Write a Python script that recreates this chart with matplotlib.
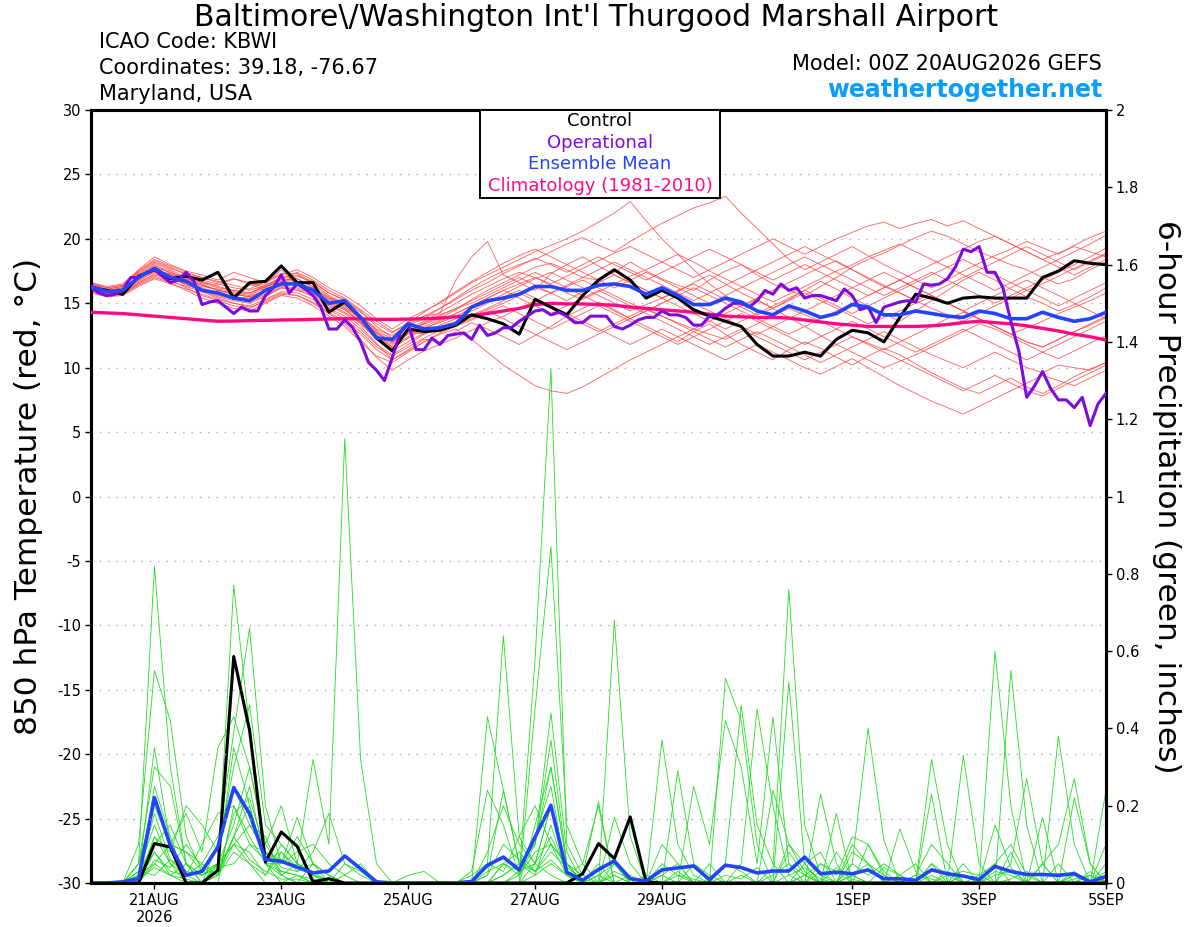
import numpy as np
import matplotlib
matplotlib.use("Agg")
import matplotlib.pyplot as plt
from matplotlib.patches import Rectangle

plt.rcParams['font.family'] = ['DejaVu Sans']
plt.rcParams['axes.unicode_minus'] = False

# ---------------- data ----------------
# 6-hourly steps from 00Z 20AUG2026 to 00Z 05SEP2026 (65 points)
hours6 = np.arange(65) * 6
# operational run is 3-hourly (129 points)
hours3 = np.arange(129) * 3

tick_hours = [24, 72, 120, 168, 216, 288, 336, 384]
tick_labels = ["21AUG\n2026", "23AUG", "25AUG", "27AUG", "29AUG", "1SEP", "3SEP", "5SEP"]

temp_ticks = [-30, -25, -20, -15, -10, -5, 0, 5, 10, 15, 20, 25, 30]
precip_ticks = [0, 0.2, 0.4, 0.6, 0.8, 1.0, 1.2, 1.4, 1.6, 1.8, 2.0]
precip_tick_labels = ["0", "0.2", "0.4", "0.6", "0.8", "1", "1.2", "1.4", "1.6", "1.8", "2"]

control_t = [16.2, 16.0, 15.7, 17.1, 17.6, 16.9, 17.1, 16.8, 17.4, 15.4, 16.6, 16.7, 17.9,
             16.6, 16.6, 14.3, 15.1, 13.9, 12.3, 11.3, 13.0, 12.8, 12.9, 13.3, 14.1, 13.8,
             13.4, 12.6, 15.3, 14.7, 14.1, 15.6, 16.8, 17.6, 16.8, 15.4, 16.0, 15.4, 14.5,
             14.0, 13.6, 13.2, 11.8, 10.9, 10.9, 11.2, 10.9, 12.2, 12.9, 12.7, 12.0, 13.9,
             15.7, 15.4, 15.0, 15.4, 15.5, 15.4, 15.4, 15.4, 17.0, 17.5, 18.3, 18.1, 18.0]

ens_mean_t = [16.3, 15.9, 16.0, 17.0, 17.7, 17.0, 16.7, 16.0, 15.8, 15.4, 15.2, 16.0, 16.5,
              16.5, 16.0, 15.0, 15.2, 13.9, 12.3, 12.2, 13.4, 13.0, 13.1, 13.4, 14.7, 15.2,
              15.4, 15.7, 16.3, 16.3, 16.0, 16.0, 16.4, 16.5, 16.3, 15.7, 16.2, 15.6, 14.9,
              14.9, 15.4, 15.1, 14.4, 14.1, 14.8, 14.4, 13.9, 14.2, 14.9, 14.7, 14.1, 14.1,
              14.4, 14.2, 14.0, 13.9, 14.4, 14.2, 13.8, 13.8, 14.3, 13.9, 13.6, 13.8, 14.3]

climo_t = [14.3, 14.25, 14.2, 14.1, 14.0, 13.9, 13.8, 13.7, 13.6, 13.62, 13.65, 13.67, 13.7,
           13.72, 13.75, 13.78, 13.8, 13.8, 13.75, 13.75, 13.77, 13.8, 13.85, 13.95, 14.05, 14.2,
           14.4, 14.6, 14.9, 15.0, 14.95, 14.95, 14.9, 14.85, 14.7, 14.6, 14.5, 14.4, 14.3,
           14.15, 14.0, 13.95, 13.9, 13.9, 13.85, 13.7, 13.55, 13.4, 13.3, 13.2, 13.2, 13.2,
           13.2, 13.25, 13.35, 13.5, 13.6, 13.5, 13.4, 13.25, 13.05, 12.85, 12.6, 12.4, 12.15]

oper_t = [16.2, 15.8, 15.6, 15.7, 16.0, 17.0, 17.0, 17.4, 17.6, 17.1, 16.6, 16.8, 17.4,
          16.7, 14.9, 15.1, 15.2, 14.7, 14.2, 14.7, 14.4, 14.4, 15.6, 16.2, 17.2, 15.8,
          16.5, 16.1, 15.6, 14.7, 13.0, 13.0, 13.7, 13.1, 12.0, 10.4, 9.8, 9.0, 10.8,
          12.7, 13.4, 11.4, 11.4, 12.3, 11.8, 12.5, 12.6, 12.7, 12.2, 13.3, 12.5, 12.7,
          13.1, 13.1, 13.6, 14.0, 14.4, 14.5, 14.1, 14.3, 14.0, 13.5, 13.5, 14.0, 14.0,
          14.0, 13.2, 13.0, 13.3, 13.7, 13.9, 13.9, 14.4, 14.1, 14.1, 13.9, 13.3, 13.3,
          14.0, 14.1, 14.6, 15.0, 15.0, 14.7, 15.2, 16.0, 15.7, 16.5, 16.0, 16.2, 15.4,
          15.6, 15.6, 15.4, 15.2, 16.1, 15.6, 14.5, 14.7, 13.5, 14.7, 14.9, 15.1, 15.2,
          15.1, 16.5, 16.4, 16.5, 16.9, 17.8, 19.2, 19.0, 19.4, 17.4, 17.4, 16.2, 13.6,
          11.3, 7.7, 8.6, 9.7, 8.4, 7.5, 7.5, 6.9, 7.7, 5.5, 7.2, 8.0]

control_p = [0, 0, 0, 0, 0.102, 0.093, 0, 0, 0.033, 0.586, 0.395, 0.054, 0.132,
             0.095, 0.003, 0.011, 0, 0, 0, 0, 0, 0, 0, 0, 0, 0,
             0, 0, 0, 0, 0, 0.024, 0.102, 0.063, 0.171, 0.003, 0, 0, 0,
             0, 0, 0, 0, 0, 0, 0, 0, 0, 0, 0, 0, 0,
             0, 0, 0, 0, 0, 0, 0, 0, 0, 0, 0, 0, 0]

ens_mean_p = [0, 0, 0.003, 0.011, 0.221, 0.097, 0.020, 0.030, 0.093, 0.247, 0.179, 0.061, 0.056,
              0.041, 0.026, 0.031, 0.070, 0.037, 0.003, 0, 0, 0, 0, 0, 0.004, 0.046,
              0.067, 0.034, 0.119, 0.201, 0.028, 0.007, 0.035, 0.057, 0.011, 0.005, 0.034, 0.039, 0.044,
              0.009, 0.046, 0.040, 0.026, 0.031, 0.031, 0.067, 0.024, 0.028, 0.024, 0.034, 0.011, 0.011,
              0.007, 0.034, 0.024, 0.018, 0.009, 0.043, 0.030, 0.022, 0.022, 0.020, 0.024, 0.003, 0.017]

# ensemble members, 850 hPa temperature (deg C)
t_m01 = [16.3, 15.9, 16.1, 17.2, 18.0, 17.3, 16.9, 16.5, 16.0, 15.8, 15.6, 16.2, 16.8, 16.9, 16.2,
         15.4, 15.0, 14.0, 12.8, 12.0, 12.9, 13.4, 13.8, 14.5, 15.3, 16.0, 16.6, 17.2, 17.8, 18.1,
         17.6, 17.0, 16.8, 17.4, 18.2, 17.5, 16.9, 16.4, 16.0, 16.8, 17.5, 18.0, 17.2, 16.5, 16.0,
         15.6, 16.3, 17.0, 17.8, 18.4, 18.9, 19.5, 20.1, 20.6, 20.2, 19.6, 19.0, 18.5, 18.0, 17.6,
         17.0, 16.5, 16.9, 17.6, 18.2]
t_m02 = [16.0, 15.7, 15.9, 16.8, 17.4, 17.0, 16.4, 16.0, 15.5, 15.2, 15.0, 15.5, 16.2, 16.0, 15.6,
         14.8, 14.2, 13.2, 11.9, 10.6, 11.4, 12.2, 12.0, 12.8, 13.5, 13.0, 12.4, 11.8, 12.5, 13.2,
         14.0, 14.6, 15.1, 14.5, 13.8, 13.2, 12.6, 12.0, 12.8, 13.4, 12.6, 11.8, 11.2, 10.6, 11.4,
         12.0, 11.5, 10.8, 10.2, 10.9, 11.5, 11.0, 10.3, 9.6, 9.0, 8.4, 8.0, 8.6, 9.2, 8.5,
         8.0, 8.6, 9.3, 9.9, 10.4]
t_m03 = [16.5, 16.2, 16.4, 17.5, 18.3, 17.8, 17.2, 16.6, 16.4, 16.9, 16.5, 16.0, 16.6, 17.1, 16.7,
         15.8, 15.3, 14.4, 13.2, 12.3, 13.6, 14.0, 14.2, 16.8, 18.6, 19.8, 17.2, 16.6, 16.0, 17.3,
         18.0, 18.6, 17.9, 17.2, 16.6, 16.0, 15.4, 15.9, 16.6, 17.2, 16.5, 15.8, 15.2, 14.6, 15.3,
         16.0, 16.7, 16.1, 15.4, 14.8, 14.2, 13.6, 14.4, 15.2, 16.0, 16.8, 17.4, 16.8, 16.1, 15.5,
         15.0, 14.4, 14.9, 15.5, 16.2]
t_m04 = [16.2, 15.8, 15.6, 16.6, 17.3, 16.8, 16.2, 15.6, 15.2, 14.8, 14.6, 15.2, 15.8, 15.6, 15.0,
         14.2, 13.4, 12.2, 10.8, 9.8, 10.6, 11.3, 11.8, 12.3, 12.9, 13.5, 14.0, 14.6, 15.2, 15.8,
         16.3, 16.8, 16.2, 15.6, 15.0, 14.5, 14.0, 13.5, 13.0, 12.6, 12.2, 12.8, 13.4, 14.0, 14.6,
         14.1, 13.6, 13.0, 12.4, 11.9, 11.4, 12.0, 12.6, 13.2, 13.8, 14.3, 13.8, 13.2, 12.6, 12.0,
         11.6, 12.2, 12.8, 13.3, 13.9]
t_m05 = [16.4, 16.0, 16.2, 17.0, 17.8, 17.4, 17.0, 16.8, 16.5, 16.2, 16.0, 16.4, 17.0, 17.2, 16.5,
         15.6, 15.0, 14.0, 13.0, 12.5, 13.3, 13.8, 14.6, 15.4, 16.2, 16.9, 17.5, 18.0, 18.4, 19.0,
         19.6, 20.1, 19.5, 19.0, 19.8, 20.5, 21.2, 21.8, 22.4, 22.8, 23.3, 22.0, 20.8, 19.6, 18.4,
         17.6, 18.2, 18.8, 19.4, 18.7, 18.0, 17.4, 16.8, 16.2, 16.8, 17.5, 18.1, 18.7, 19.2, 19.8,
         19.3, 18.8, 19.5, 20.1, 20.6]
t_m06 = [16.6, 16.3, 16.5, 17.6, 18.6, 18.0, 17.5, 17.2, 16.8, 17.4, 17.0, 16.6, 17.2, 17.6, 17.0,
         16.2, 15.6, 14.8, 13.8, 13.0, 13.8, 14.4, 15.0, 15.8, 16.6, 17.2, 17.8, 18.4, 19.0, 19.5,
         20.0, 20.6, 21.3, 22.0, 22.9, 21.4, 20.0, 18.8, 17.6, 16.5, 15.6, 14.8, 15.4, 16.0, 16.6,
         17.2, 17.8, 18.3, 17.6, 16.9, 16.3, 15.8, 15.2, 14.6, 14.1, 13.6, 14.2, 14.8, 15.4, 16.0,
         16.5, 17.1, 17.7, 18.3, 18.9]
t_m07 = [15.9, 15.5, 15.7, 16.4, 17.0, 16.6, 16.0, 15.4, 15.0, 14.6, 14.4, 15.0, 15.6, 15.4, 14.8,
         14.0, 13.2, 12.0, 10.9, 10.4, 11.2, 12.0, 12.6, 13.0, 12.2, 11.2, 10.2, 9.4, 8.6, 8.2,
         8.0, 8.5, 9.2, 9.9, 10.6, 11.2, 11.8, 12.4, 13.0, 13.6, 14.2, 14.8, 15.3, 14.6, 13.9,
         13.2, 12.5, 11.8, 11.2, 10.6, 10.0, 10.5, 11.0, 11.6, 12.2, 12.8, 13.4, 13.0, 12.4, 11.8,
         11.2, 10.7, 11.3, 11.9, 12.5]
t_m08 = [16.1, 15.8, 16.0, 17.0, 17.6, 17.2, 16.7, 16.3, 16.1, 15.9, 15.7, 16.3, 16.9, 16.7, 16.0,
         15.2, 14.6, 13.6, 12.5, 11.8, 12.6, 13.2, 13.7, 14.2, 14.8, 15.4, 16.0, 16.5, 17.0, 16.4,
         15.8, 15.3, 15.9, 16.5, 17.1, 17.6, 18.2, 18.8, 18.2, 17.5, 16.9, 16.3, 15.7, 15.1, 15.7,
         16.3, 16.9, 17.5, 18.0, 18.6, 19.1, 19.6, 19.0, 18.4, 17.8, 17.2, 16.6, 16.0, 16.6, 17.2,
         17.8, 18.4, 19.0, 19.6, 20.3]
t_m09 = [16.2, 16.0, 15.8, 16.9, 17.7, 17.0, 17.1, 16.8, 17.3, 15.6, 16.4, 16.5, 17.6, 16.4, 16.2,
         14.6, 15.0, 13.8, 12.6, 11.6, 12.8, 12.6, 13.0, 13.3, 14.0, 14.5, 15.0, 15.6, 16.2, 15.8,
         15.2, 15.9, 16.6, 17.2, 16.6, 16.0, 15.4, 14.8, 14.2, 13.6, 13.0, 13.6, 14.2, 14.8, 15.4,
         16.0, 15.4, 14.8, 14.2, 14.8, 15.4, 16.0, 16.6, 17.2, 17.8, 18.4, 17.8, 17.2, 16.6, 16.0,
         15.4, 14.8, 15.4, 16.0, 16.6]
t_m10 = [16.0, 15.6, 15.8, 16.6, 17.2, 16.9, 16.5, 16.1, 15.7, 15.4, 15.1, 15.6, 16.2, 16.1, 15.5,
         14.6, 14.0, 13.0, 11.8, 11.0, 11.8, 12.6, 13.2, 13.6, 14.1, 14.6, 15.2, 15.8, 15.2, 14.6,
         14.0, 13.4, 12.8, 13.4, 14.0, 14.6, 14.0, 13.4, 12.8, 12.2, 11.6, 12.2, 12.8, 12.2, 11.6,
         11.0, 10.4, 11.0, 11.6, 12.2, 12.8, 12.2, 11.6, 11.0, 10.5, 10.0, 10.6, 11.2, 10.6, 10.0,
         9.6, 10.2, 10.0, 9.8, 10.4]
t_m11 = [16.5, 16.1, 16.3, 17.3, 18.1, 17.6, 17.0, 16.7, 16.3, 16.0, 15.8, 16.4, 17.0, 16.9, 16.3,
         15.5, 14.9, 14.0, 12.9, 12.2, 13.0, 13.6, 14.3, 15.0, 15.7, 16.3, 16.9, 17.4, 17.0, 16.5,
         17.1, 17.7, 18.3, 18.9, 19.4, 18.8, 18.2, 17.6, 17.0, 17.6, 18.2, 18.8, 19.4, 20.0, 19.4,
         18.8, 19.4, 20.0, 20.5, 21.0, 21.3, 20.8, 21.2, 21.5, 21.0, 21.4, 20.8, 20.2, 19.6, 19.0,
         18.4, 18.9, 19.4, 19.0, 18.6]
t_m12 = [16.3, 15.9, 16.0, 17.1, 17.8, 17.1, 16.6, 16.2, 15.8, 15.5, 15.4, 15.9, 16.5, 16.4, 15.8,
         15.0, 14.5, 13.5, 12.4, 11.6, 12.4, 13.1, 13.5, 14.0, 14.6, 15.1, 15.7, 16.3, 16.9, 17.4,
         16.8, 16.2, 15.6, 15.0, 14.4, 14.9, 15.4, 16.0, 16.5, 15.9, 15.3, 14.7, 14.1, 14.6, 15.2,
         15.8, 15.2, 14.6, 14.0, 13.4, 13.9, 14.4, 15.0, 15.5, 15.0, 14.4, 13.8, 13.2, 12.6, 13.1,
         13.6, 14.2, 14.7, 15.2, 15.8]
t_m13 = [16.0, 15.7, 15.9, 16.7, 17.5, 17.0, 16.5, 16.0, 15.6, 15.3, 15.2, 15.7, 16.3, 16.2, 15.7,
         14.9, 14.3, 13.4, 12.2, 11.3, 12.0, 12.7, 13.3, 13.8, 14.4, 15.0, 15.5, 16.0, 15.4, 14.8,
         14.2, 13.6, 13.0, 12.4, 11.8, 12.4, 13.0, 12.4, 11.8, 11.2, 10.6, 11.2, 11.8, 11.2, 10.6,
         10.0, 9.5, 10.1, 10.7, 10.0, 9.3, 8.6, 8.0, 7.4, 6.9, 6.4, 7.0, 7.6, 8.2, 8.8,
         9.4, 9.0, 8.6, 9.2, 9.8]
t_m14 = [16.4, 16.1, 16.3, 17.4, 18.2, 17.7, 17.3, 17.0, 16.6, 16.9, 16.6, 16.2, 16.9, 17.4, 16.8,
         16.0, 15.4, 14.5, 13.6, 12.8, 13.4, 14.0, 14.6, 15.3, 16.0, 16.6, 17.3, 17.9, 18.5, 18.0,
         17.4, 18.0, 18.6, 18.0, 17.4, 16.8, 17.4, 18.0, 18.6, 19.2, 18.6, 18.0, 17.4, 16.8, 17.4,
         18.0, 17.4, 16.8, 16.2, 15.6, 16.2, 16.8, 17.4, 18.0, 18.6, 19.2, 19.8, 20.2, 19.6, 19.0,
         18.4, 17.8, 17.2, 17.8, 18.4]
t_m15 = [16.1, 15.8, 15.7, 16.5, 17.1, 16.7, 16.3, 15.9, 15.4, 15.0, 14.8, 15.3, 15.9, 15.8, 15.3,
         14.5, 13.8, 12.8, 11.6, 10.9, 11.6, 12.3, 12.9, 13.3, 13.8, 14.4, 13.8, 13.2, 12.6, 12.0,
         11.4, 12.0, 12.6, 13.2, 13.8, 14.4, 15.0, 15.6, 16.2, 15.6, 15.0, 14.4, 13.8, 13.2, 12.6,
         13.2, 13.8, 14.4, 15.0, 15.6, 16.2, 16.8, 16.2, 15.6, 15.0, 14.4, 13.8, 13.2, 12.6, 12.0,
         11.6, 12.2, 12.8, 13.4, 14.0]
t_m16 = [16.6, 16.2, 16.4, 17.5, 18.4, 17.9, 17.4, 17.0, 16.7, 16.4, 16.1, 16.7, 17.3, 17.3, 16.6,
         15.8, 15.2, 14.3, 13.4, 12.7, 13.5, 14.3, 15.1, 15.9, 16.7, 17.4, 18.1, 18.7, 19.2, 18.6,
         18.0, 17.4, 16.8, 16.2, 16.8, 17.4, 16.8, 16.2, 15.6, 15.0, 15.6, 16.2, 16.8, 17.4, 18.0,
         18.6, 18.0, 17.4, 16.8, 16.2, 15.6, 16.2, 16.8, 17.4, 16.8, 16.2, 15.6, 15.0, 15.6, 16.2,
         16.8, 17.4, 18.0, 18.6, 19.3]
t_m17 = [15.8, 15.5, 15.6, 16.3, 16.9, 16.5, 16.1, 15.7, 15.3, 15.0, 14.7, 15.1, 15.7, 15.6, 15.1,
         14.3, 13.6, 12.6, 11.4, 10.6, 11.3, 12.0, 12.7, 13.2, 13.7, 14.3, 14.8, 14.2, 13.6, 13.0,
         13.6, 14.2, 14.8, 14.2, 13.6, 13.0, 12.4, 11.8, 12.4, 13.0, 13.6, 14.2, 13.6, 13.0, 12.4,
         11.8, 12.4, 13.0, 13.6, 13.0, 12.4, 11.8, 11.2, 11.8, 12.4, 13.0, 12.4, 11.8, 11.2, 10.6,
         11.2, 11.8, 12.4, 13.0, 13.6]
t_m18 = [16.2, 15.9, 16.1, 17.1, 17.9, 17.5, 16.8, 16.4, 16.0, 15.7, 15.5, 16.0, 16.6, 16.6, 16.1,
         15.3, 14.7, 13.8, 12.7, 11.9, 12.7, 13.4, 14.0, 14.6, 15.2, 15.8, 16.4, 17.0, 16.4, 15.8,
         16.4, 17.0, 17.6, 18.2, 17.6, 17.0, 16.4, 15.8, 15.2, 15.8, 16.4, 17.0, 17.6, 18.2, 18.8,
         19.4, 18.8, 18.2, 17.6, 17.0, 16.4, 15.8, 15.2, 15.8, 16.4, 17.0, 17.6, 18.2, 18.8, 19.4,
         18.8, 18.2, 17.6, 18.2, 18.8]
t_m19 = [16.3, 16.0, 16.2, 17.0, 17.5, 17.3, 16.9, 16.6, 16.2, 16.0, 15.8, 16.3, 16.7, 16.6, 16.1,
         15.4, 14.8, 13.8, 12.7, 12.0, 12.8, 13.5, 14.1, 14.6, 15.0, 15.6, 16.2, 16.8, 17.4, 16.8,
         16.2, 15.6, 15.0, 14.4, 13.8, 14.4, 15.0, 15.6, 15.0, 14.4, 13.8, 13.2, 12.6, 13.2, 13.8,
         14.4, 15.0, 15.6, 16.2, 16.8, 17.4, 16.8, 16.2, 15.6, 15.0, 14.4, 15.0, 15.6, 16.2, 16.8,
         16.2, 15.6, 15.0, 14.4, 13.8]
t_m20 = [16.1, 15.8, 16.0, 16.9, 17.6, 17.2, 16.8, 16.4, 16.0, 15.7, 15.5, 16.0, 16.6, 16.5, 15.9,
         15.1, 14.5, 13.5, 12.3, 11.5, 12.3, 13.0, 13.6, 14.2, 14.8, 15.4, 16.0, 15.4, 14.8, 14.2,
         14.8, 15.4, 16.0, 15.4, 14.8, 14.2, 13.6, 13.0, 12.4, 11.8, 12.4, 13.0, 12.4, 11.8, 11.2,
         10.6, 11.2, 11.8, 12.4, 11.8, 11.2, 10.6, 10.0, 9.4, 8.8, 8.2, 8.8, 9.4, 8.8, 8.2,
         7.8, 8.4, 9.0, 9.6, 10.2]

# ensemble members, 6-hour precipitation (inches)
p_m01 = [0, 0, 0, 0.05, 0.82, 0.30, 0.05, 0, 0.02, 0.12, 0.20, 0.05, 0,
         0.02, 0, 0, 0, 0, 0, 0, 0, 0, 0, 0, 0, 0.43,
         0.24, 0.05, 0.10, 0.30, 0.05, 0, 0, 0, 0, 0, 0.02, 0.05, 0,
         0, 0.53, 0.42, 0.10, 0, 0, 0.05, 0, 0, 0.02, 0, 0, 0,
         0, 0.05, 0, 0, 0, 0.15, 0.04, 0, 0, 0, 0.02, 0, 0]
p_m02 = [0, 0, 0, 0.10, 0.55, 0.42, 0.12, 0.03, 0.05, 0.77, 0.40, 0.08, 0.02,
         0, 0, 0, 0, 0, 0, 0, 0, 0, 0, 0, 0.02, 0.05,
         0.64, 0.12, 0.05, 0.20, 0.02, 0, 0, 0.17, 0.05, 0, 0, 0, 0,
         0, 0, 0.05, 0.45, 0.20, 0.02, 0, 0, 0.08, 0.02, 0, 0, 0.14,
         0.03, 0, 0, 0, 0, 0, 0.05, 0.27, 0.05, 0, 0, 0, 0.05]
p_m03 = [0, 0, 0, 0.02, 0.35, 0.10, 0.18, 0.08, 0.35, 0.43, 0.30, 0.10, 0.20,
         0.05, 0.02, 0, 0, 0, 0, 0, 0, 0, 0, 0, 0, 0,
         0.05, 0.02, 0.58, 1.33, 0.10, 0.02, 0.21, 0, 0, 0, 0, 0.03, 0,
         0, 0, 0, 0, 0.04, 0.76, 0.15, 0.02, 0, 0, 0, 0, 0,
         0, 0.32, 0.10, 0, 0, 0, 0.55, 0.15, 0, 0.38, 0.10, 0, 0]
p_m04 = [0, 0, 0, 0.05, 0.30, 0.25, 0.05, 0, 0.10, 0.39, 0.66, 0.20, 0.05,
         0.17, 0.05, 0.02, 0, 0, 0, 0, 0, 0, 0, 0, 0, 0,
         0, 0, 0.45, 0.87, 0.15, 0.05, 0, 0.68, 0.12, 0, 0, 0, 0,
         0, 0, 0, 0, 0, 0.52, 0.05, 0, 0, 0.05, 0.40, 0.11, 0,
         0, 0, 0, 0, 0, 0.60, 0.20, 0, 0, 0, 0, 0, 0]
p_m05 = [0, 0, 0, 0.01, 0.12, 0.08, 0.20, 0.15, 0.08, 0.30, 0.46, 0.15, 0.10,
         0.05, 0.32, 0.10, 1.15, 0.32, 0.05, 0, 0, 0, 0, 0, 0, 0,
         0.02, 0.05, 0.10, 0.44, 0.08, 0, 0, 0, 0, 0, 0.37, 0.10, 0.02,
         0, 0, 0, 0, 0, 0, 0, 0.23, 0.05, 0, 0, 0, 0,
         0, 0, 0, 0, 0, 0, 0, 0, 0.05, 0.10, 0.27, 0.05, 0]
p_m06 = [0, 0, 0, 0.03, 0.15, 0.05, 0.02, 0.10, 0.18, 0.20, 0.10, 0.08, 0.05,
         0.12, 0.05, 0.02, 0, 0, 0, 0, 0.02, 0.03, 0, 0, 0.03, 0.24,
         0.15, 0.02, 0.10, 0.37, 0.05, 0, 0.05, 0, 0, 0.02, 0, 0.29, 0.05,
         0, 0.05, 0.46, 0.15, 0.05, 0, 0, 0, 0.18, 0, 0, 0, 0,
         0, 0.23, 0, 0, 0, 0, 0, 0, 0.17, 0, 0, 0, 0.24]
p_m07 = [0, 0, 0, 0, 0.08, 0.02, 0, 0, 0.05, 0.10, 0.05, 0.02, 0.08,
         0.03, 0.08, 0.18, 0.05, 0.02, 0, 0, 0, 0, 0, 0, 0, 0.02,
         0.24, 0.05, 0.02, 0.15, 0.02, 0.05, 0.20, 0, 0, 0, 0, 0, 0.25,
         0.10, 0.42, 0.30, 0.05, 0.43, 0.05, 0, 0, 0, 0, 0.10, 0.02, 0,
         0, 0, 0, 0.33, 0.05, 0, 0, 0, 0, 0, 0.22, 0.05, 0]
p_m08 = [0, 0, 0, 0.02, 0.05, 0.10, 0.08, 0.05, 0.02, 0.12, 0.25, 0.05, 0.02,
         0, 0.05, 0, 0.02, 0, 0, 0, 0, 0, 0, 0, 0, 0.05,
         0.03, 0.12, 0.20, 0.10, 0.05, 0, 0.02, 0.05, 0, 0, 0, 0, 0,
         0.05, 0, 0, 0, 0.24, 0.10, 0.05, 0.08, 0, 0.02, 0.05, 0, 0,
         0, 0, 0, 0, 0, 0, 0.08, 0, 0, 0, 0, 0, 0.03]
p_m09 = [0, 0, 0, 0, 0.25, 0.12, 0, 0, 0, 0.20, 0.12, 0.05, 0.03,
         0.02, 0, 0, 0, 0, 0, 0, 0, 0, 0, 0, 0, 0,
         0, 0, 0.15, 0.30, 0.05, 0, 0.02, 0, 0, 0, 0.10, 0.05, 0,
         0, 0.05, 0.03, 0, 0, 0.08, 0.02, 0, 0, 0.10, 0.05, 0, 0,
         0.02, 0.10, 0.05, 0, 0.02, 0.05, 0.10, 0.02, 0, 0.05, 0, 0, 0.10]
p_m10 = [0, 0, 0, 0.02, 0.18, 0.06, 0.02, 0.05, 0.12, 0.25, 0.15, 0.12, 0.02,
         0.05, 0.02, 0, 0, 0, 0, 0, 0, 0, 0, 0, 0, 0.08,
         0.20, 0.10, 0.05, 0.02, 0, 0, 0, 0, 0, 0, 0, 0, 0,
         0, 0, 0, 0, 0, 0, 0.02, 0.05, 0.02, 0.12, 0.10, 0.03, 0,
         0, 0.05, 0.02, 0.03, 0.02, 0, 0, 0, 0, 0, 0.02, 0, 0]
p_m11 = [0, 0, 0, 0.03, 0.10, 0.15, 0.05, 0.02, 0.05, 0.35, 0.20, 0.05, 0.05,
         0.08, 0.10, 0.05, 0.02, 0.05, 0, 0, 0, 0, 0, 0, 0, 0,
         0, 0, 0.05, 0.20, 0.03, 0, 0, 0, 0.02, 0, 0, 0, 0.05,
         0.02, 0, 0, 0, 0, 0.10, 0.03, 0, 0, 0.05, 0.02, 0.05, 0.02,
         0, 0, 0, 0.05, 0, 0.05, 0, 0, 0, 0, 0, 0.03, 0]
p_m12 = [0, 0, 0, 0, 0.05, 0.02, 0.05, 0.02, 0.05, 0.15, 0.30, 0.10, 0.04,
         0.03, 0.05, 0.02, 0, 0, 0, 0, 0, 0, 0, 0, 0, 0,
         0, 0.02, 0.08, 0.10, 0.02, 0, 0, 0.05, 0, 0, 0.05, 0.02, 0,
         0, 0, 0, 0, 0, 0, 0, 0.03, 0, 0.08, 0.05, 0.02, 0,
         0, 0, 0.03, 0, 0, 0.02, 0.03, 0, 0, 0, 0.03, 0, 0.02]
p_m13 = [0, 0, 0, 0.02, 0.08, 0.03, 0.02, 0, 0.05, 0.10, 0.08, 0.02, 0.10,
         0.05, 0.03, 0, 0, 0, 0, 0, 0, 0, 0, 0, 0, 0.03,
         0.05, 0.03, 0.12, 0.25, 0.02, 0, 0, 0, 0, 0, 0, 0, 0,
         0, 0, 0, 0, 0, 0, 0, 0, 0, 0, 0, 0, 0.02,
         0.05, 0, 0.02, 0, 0, 0, 0, 0, 0, 0, 0, 0, 0]
p_m14 = [0, 0, 0, 0, 0.12, 0.05, 0, 0, 0.02, 0.08, 0.05, 0, 0,
         0, 0, 0, 0, 0, 0, 0, 0, 0, 0, 0, 0, 0,
         0, 0, 0.02, 0.05, 0.02, 0, 0, 0.02, 0, 0, 0.02, 0, 0,
         0, 0, 0, 0, 0, 0, 0, 0, 0, 0, 0, 0, 0,
         0, 0, 0, 0, 0, 0, 0, 0, 0, 0, 0, 0, 0]
p_m15 = [0, 0, 0, 0.05, 0.20, 0.10, 0.08, 0.03, 0.02, 0.18, 0.22, 0.08, 0.06,
         0.04, 0.02, 0, 0, 0, 0, 0, 0, 0, 0, 0, 0, 0,
         0.05, 0.08, 0.03, 0.10, 0.05, 0.02, 0, 0, 0, 0, 0, 0, 0,
         0, 0, 0.02, 0, 0, 0, 0, 0.05, 0.03, 0, 0, 0, 0,
         0, 0, 0, 0.02, 0, 0, 0, 0, 0.05, 0, 0, 0, 0]
p_m16 = [0, 0, 0, 0, 0.06, 0.04, 0.10, 0.04, 0.02, 0.10, 0.15, 0.08, 0.03,
         0.02, 0.01, 0, 0, 0, 0, 0, 0, 0, 0, 0, 0, 0.02,
         0.10, 0.06, 0.03, 0.06, 0.02, 0, 0, 0.03, 0.01, 0, 0, 0, 0,
         0, 0, 0, 0, 0.02, 0.05, 0.02, 0, 0, 0, 0, 0.04, 0.02,
         0, 0.02, 0, 0, 0, 0.03, 0.02, 0, 0, 0, 0, 0, 0]
p_m17 = [0, 0, 0, 0.01, 0.04, 0.02, 0.01, 0, 0.03, 0.12, 0.06, 0.03, 0.01,
         0.01, 0, 0, 0.05, 0.03, 0, 0, 0, 0, 0, 0, 0, 0,
         0, 0.03, 0.05, 0.12, 0.03, 0, 0, 0.02, 0, 0, 0, 0.02, 0.01,
         0, 0.02, 0.01, 0.04, 0, 0, 0.02, 0, 0.04, 0.01, 0, 0, 0,
         0.02, 0.01, 0, 0.02, 0, 0, 0.01, 0.03, 0, 0, 0, 0.02, 0]
p_m18 = [0, 0, 0, 0.03, 0.02, 0.06, 0.03, 0.02, 0.04, 0.05, 0.10, 0.06, 0.08,
         0.04, 0.02, 0.01, 0, 0, 0, 0, 0, 0, 0, 0, 0, 0,
         0.02, 0.05, 0.03, 0.08, 0.04, 0.01, 0, 0, 0, 0, 0, 0, 0,
         0, 0, 0, 0, 0, 0.02, 0.04, 0.01, 0, 0, 0, 0, 0,
         0, 0, 0, 0, 0, 0, 0, 0, 0, 0, 0.01, 0.02, 0]

temp_members = [t_m01, t_m02, t_m03, t_m04, t_m05, t_m06, t_m07, t_m08, t_m09, t_m10,
                t_m11, t_m12, t_m13, t_m14, t_m15, t_m16, t_m17, t_m18, t_m19, t_m20]
precip_members = [p_m01, p_m02, p_m03, p_m04, p_m05, p_m06, p_m07, p_m08, p_m09,
                  p_m10, p_m11, p_m12, p_m13, p_m14, p_m15, p_m16, p_m17, p_m18]

# ---------------- figure ----------------
W, H = 1200, 927
fig = plt.figure(figsize=(W / 100, H / 100), dpi=100)
L, R, T, B = 91, 1106, 110, 883
ax = fig.add_axes([L / W, 1 - B / H, (R - L) / W, (B - T) / H])
ax2 = ax.twinx()
ax.set_zorder(ax2.get_zorder() + 1)
ax.patch.set_visible(False)

# precipitation (right axis)
for m in precip_members:
    ax2.plot(hours6, m, color='#22dd22', lw=0.6, zorder=2)
ax2.plot(hours6, control_p, color='black', lw=2.2, zorder=4)
ax2.plot(hours6, ens_mean_p, color='#2244ff', lw=2.6, zorder=5)
ax2.set_ylim(0, 2)
ax2.set_yticks(precip_ticks)
ax2.set_yticklabels(precip_tick_labels)

# temperature (left axis)
for m in temp_members:
    ax.plot(hours6, m, color='#ff4a4a', lw=0.6, alpha=0.9, zorder=2)
ax.plot(hours6, climo_t, color='#ff0a84', lw=2.4, zorder=4)
ax.plot(hours6, control_t, color='black', lw=2.2, zorder=5)
ax.plot(hours3, oper_t, color='#7f0adf', lw=2.2, zorder=6)
ax.plot(hours6, ens_mean_t, color='#2244ff', lw=2.6, zorder=7)

ax.set_ylim(-30, 30)
ax.set_xlim(0, 384)
ax.set_yticks(temp_ticks)
ax.set_yticklabels([str(v) for v in temp_ticks])
ax.set_xticks(tick_hours)
ax.set_xticklabels(tick_labels)
for v in temp_ticks[1:-1]:
    ax.axhline(v, color='#aaaaaa', lw=1.0, ls=(0, (1, 5)), zorder=1)

for a in (ax, ax2):
    for s in a.spines.values():
        s.set_linewidth(2.2)
ax.tick_params(axis='both', labelsize=10.5, direction='out', length=4, width=1, pad=3)
ax2.tick_params(axis='y', labelsize=10.5, direction='out', length=4, width=1, pad=3)

ax.set_ylabel("850 hPa Temperature (red, \u00b0C)", fontsize=22.5, labelpad=10)
ax2.set_ylabel("6-hour Precipitation (green, inches)", fontsize=22.5, rotation=-90, labelpad=30)

# legend box
lx0, lx1, ly0, ly1 = 480, 720, 110, 198
fig.patches.append(Rectangle((lx0 / W, 1 - ly1 / H), (lx1 - lx0) / W, (ly1 - ly0) / H,
                             transform=fig.transFigure, facecolor='white', edgecolor='black',
                             lw=1.4, zorder=10))
leg_items = [("Control", 'black', 121), ("Operational", '#7f0adf', 142.5),
             ("Ensemble Mean", '#2244ff', 164), ("Climatology (1981-2010)", '#ff0a84', 186)]
for txt, col, yy in leg_items:
    fig.text(600 / W, 1 - yy / H, txt, color=col, fontsize=13, ha='center', va='center', zorder=11)

# header texts
fig.text(596 / W, 1 - 26 / H, "Baltimore\\/Washington Int'l Thurgood Marshall Airport",
         fontsize=21.5, ha='center', va='baseline')
fig.text(99 / W, 1 - 48 / H, "ICAO Code: KBWI", fontsize=15, ha='left', va='baseline')
fig.text(99 / W, 1 - 74 / H, "Coordinates: 39.18, -76.67", fontsize=15, ha='left', va='baseline')
fig.text(99 / W, 1 - 100 / H, "Maryland, USA", fontsize=15, ha='left', va='baseline')
fig.text(1102 / W, 1 - 70 / H, "Model: 00Z 20AUG2026 GEFS", fontsize=15, ha='right', va='baseline')
fig.text(1102 / W, 1 - 97 / H, "weathertogether.net", fontsize=17, ha='right', va='baseline',
         color='#0a9cff', fontweight='bold')

fig.savefig("out.png", dpi=100)
